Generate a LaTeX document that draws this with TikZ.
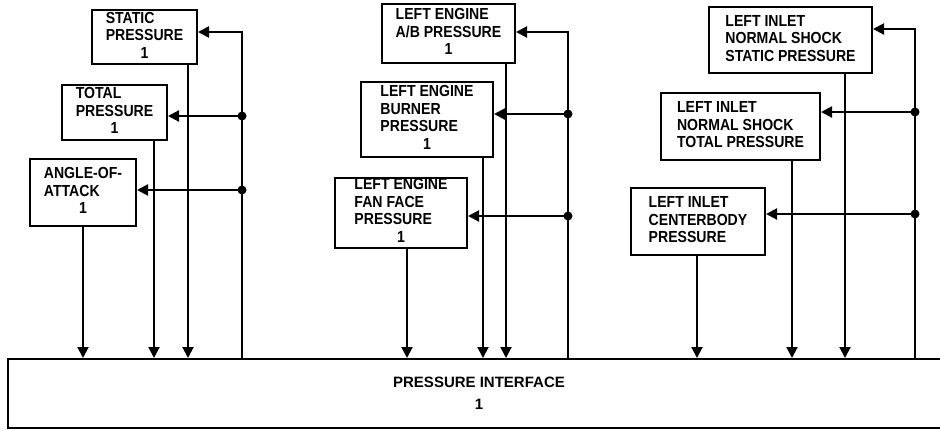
\documentclass[tikz,border=0pt]{standalone}
\usepackage{fontspec}
\setmainfont{Liberation Sans}
\newfontfamily\condfont{Liberation Sans}[FakeStretch=0.88]
\usepackage{tikz}
\usetikzlibrary{arrows.meta, calc}
\newcommand{\boxtxt}[1]{\begin{tabular}{@{}l@{}}#1\end{tabular}}
\newcommand{\unitone}{\multicolumn{1}{@{}c@{}}{1}}

\begin{document}
\begin{tikzpicture}[
    x=1pt, y=-1pt,
    line width=2pt,
    >={Triangle[length=11pt, width=11pt]},
    sensor/.style={draw, inner sep=0pt, font=\condfont\bfseries\fontsize{16}{17.5}\selectfont},
    bigbox/.style={draw, inner sep=0pt, align=center, font=\bfseries\fontsize{15}{22}\selectfont},
    dot/.style={circle, fill, inner sep=0pt, minimum size=9pt},
]
    \clip (0,0) rectangle (940,429);

    % interface
    \node[bigbox, minimum width=942, minimum height=69] (iface) at (479,393.5) {PRESSURE INTERFACE\\1};

    % air data group
    \node[sensor, minimum width=105, minimum height=54] (stat) at (144.5,37) {\boxtxt{STATIC\\PRESSURE\\\unitone}};
    \node[sensor, minimum width=105, minimum height=55] (tot) at (114.5,112.5) {\boxtxt{TOTAL\\PRESSURE\\\unitone}};
    \node[sensor, minimum width=106, minimum height=67] (aoa) at (83,192.5) {\boxtxt{ANGLE-OF-\\ATTACK\\\unitone}};

    % engine group
    \node[sensor, minimum width=133, minimum height=59] (ab) at (448.5,33.5) {\boxtxt{LEFT ENGINE\\A/B PRESSURE\\\unitone}};
    \node[sensor, minimum width=132, minimum height=75] (burn) at (427,119.5) {\boxtxt{LEFT ENGINE\\BURNER\\PRESSURE\\\unitone}};
    \node[sensor, minimum width=132, minimum height=67] (fan) at (401,212.5) {\boxtxt{LEFT ENGINE\\FAN FACE\\PRESSURE\\\unitone}};

    % inlet group
    \node[sensor, minimum width=163, minimum height=66] (nss) at (790.5,40) {\boxtxt{LEFT INLET\\NORMAL SHOCK\\STATIC PRESSURE}};
    \node[sensor, minimum width=159, minimum height=67] (nst) at (740.5,126.5) {\boxtxt{LEFT INLET\\NORMAL SHOCK\\TOTAL PRESSURE}};
    \node[sensor, minimum width=134, minimum height=67] (cb) at (698,221.5) {\boxtxt{LEFT INLET\\CENTERBODY\\PRESSURE}};

    % buses out of the interface
    \coordinate (topA) at (242,32);
    \coordinate (topB) at (568,32);
    \coordinate (topC) at (915,29);
    \draw[->] (iface.north -| topA) -- (topA) -- (topA -| stat.east);
    \draw[->] (iface.north -| topB) -- (topB) -- (topB -| ab.east);
    \draw[->] (iface.north -| topC) -- (topC) -- (topC -| nss.east);

    \node[dot] (jA1) at (242,116) {};
    \node[dot] (jA2) at (242,190) {};
    \node[dot] (jB1) at (568,114) {};
    \node[dot] (jB2) at (568,216) {};
    \node[dot] (jC1) at (915,112) {};
    \node[dot] (jC2) at (915,214) {};
    \draw[->] (jA1.center) -- (jA1 -| tot.east);
    \draw[->] (jA2.center) -- (jA2 -| aoa.east);
    \draw[->] (jB1.center) -- (jB1 -| burn.east);
    \draw[->] (jB2.center) -- (jB2 -| fan.east);
    \draw[->] (jC1.center) -- (jC1 -| nst.east);
    \draw[->] (jC2.center) -- (jC2 -| cb.east);

    % sensor outputs into the interface
    \foreach \n/\x in {stat/188, tot/154, aoa/83, ab/506, burn/483, fan/407, nss/845, nst/792, cb/697}
        \draw[->] (\n.south -| \x,0) -- (iface.north -| \x,0);
\end{tikzpicture}
\end{document}
